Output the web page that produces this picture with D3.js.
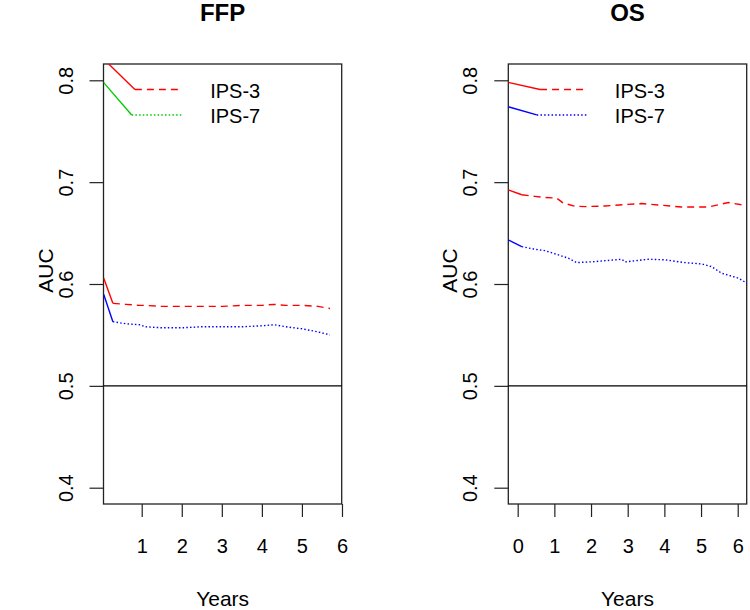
<!DOCTYPE html>
<html><head><meta charset="utf-8">
<script src="https://cdn.jsdelivr.net/npm/d3@7"></script>
<style>body{margin:0;background:#fff}text{font-family:"Liberation Sans",Arial,sans-serif}</style>
</head><body>
<svg id="c" width="750" height="610"></svg>
<script>
// ---- data ----
const panelTitles = ["FFP", "OS"];
const yTicks = [0.4, 0.5, 0.6, 0.7, 0.8];
const ffpXTicks = [1, 2, 3, 4, 5, 6];
const osXTicks = [0, 1, 2, 3, 4, 5, 6];
const legendLabels = ["IPS-3", "IPS-7"];

const ffpTimes = [0.05, 0.28, 0.6, 0.95, 1.1, 1.5, 2.0, 2.5, 3.0, 3.5, 4.0, 4.3, 4.6, 5.0, 5.4, 5.7];
const ffpIPS3 = [0.606, 0.581, 0.580, 0.579, 0.579, 0.578, 0.578, 0.578, 0.578, 0.579, 0.579, 0.580, 0.579, 0.579, 0.578, 0.576];
const ffpIPS7 = [0.590, 0.563, 0.561, 0.560, 0.558, 0.557, 0.557, 0.558, 0.558, 0.558, 0.559, 0.560, 0.558, 0.556, 0.553, 0.550];

const osTimes3 = [-0.26, 0.11, 0.47, 0.74, 1.06, 1.24, 1.56, 1.84, 2.38, 2.93, 3.38, 3.93, 4.47, 5.2, 5.74, 6.25];
const osIPS3 = [0.6925, 0.6876, 0.686, 0.685, 0.6844, 0.6795, 0.6763, 0.676, 0.6766, 0.678, 0.679, 0.6773, 0.6756, 0.6756, 0.680, 0.677];
const osTimes7 = [-0.26, 0.11, 0.47, 0.74, 1.11, 1.38, 1.61, 2.11, 2.84, 2.93, 3.56, 4.02, 4.56, 5.02, 5.29, 5.56, 6.02, 6.25];
const osIPS7 = [0.6433, 0.6367, 0.6341, 0.6328, 0.6286, 0.6253, 0.621, 0.622, 0.6243, 0.6217, 0.6243, 0.6237, 0.621, 0.6197, 0.617, 0.6106, 0.6057, 0.6008];

// legend leader segments (solid part, then patterned legend line), in data units
const ffpLegend = [
  {label: "IPS-3", color: "#ff0000", dash: "7,5", lead: [[0.046, 0.821], [0.83, 0.791]], line: [[0.83, 0.791], [1.96, 0.791]], tx: 2.71},
  {label: "IPS-7", color: "#00cc00", dash: "1.5,2.2", lead: [[0.046, 0.798], [0.75, 0.766]], line: [[0.75, 0.766], [2.0, 0.766]], tx: 2.71}
];
const osLegend = [
  {label: "IPS-3", color: "#ff0000", dash: "7,5", lead: [[-0.26, 0.798], [0.61, 0.791]], line: [[0.61, 0.791], [1.88, 0.791]], tx: 2.65},
  {label: "IPS-7", color: "#0000ff", dash: "1.5,2.2", lead: [[-0.26, 0.774], [0.52, 0.766]], line: [[0.52, 0.766], [1.88, 0.766]], tx: 2.65}
];

const panels = [
  {title: panelTitles[0], x0: 103.5, x1: 341.7, xdom: [0.046, 5.993], xticks: ffpXTicks,
   series: [{t: ffpTimes, v: ffpIPS3, color: "#ff0000", dash: "7,5"}, {t: ffpTimes, v: ffpIPS7, color: "#0000ff", dash: "1.5,2.2"}],
   legend: ffpLegend},
  {title: panelTitles[1], x0: 508.3, x1: 746.7, xdom: [-0.256, 6.245], xticks: osXTicks,
   series: [{t: osTimes3, v: osIPS3, color: "#ff0000", dash: "7,5"}, {t: osTimes7, v: osIPS7, color: "#0000ff", dash: "1.5,2.2"}],
   legend: osLegend}
];

const svg = d3.select("#c");
const yTop = 64, yBot = 504;
const y = d3.scaleLinear().domain([0.384, 0.816]).range([yBot, yTop]);
const axisColor = "#222";

panels.forEach((p, i) => {
  const x = d3.scaleLinear().domain(p.xdom).range([p.x0, p.x1]);
  const g = svg.append("g");
  const cid = "clip" + i;
  svg.append("defs").append("clipPath").attr("id", cid)
    .append("rect").attr("x", p.x0).attr("y", yTop).attr("width", p.x1 - p.x0).attr("height", yBot - yTop);

  // axes
  const xa = g.append("g").attr("transform", `translate(0,${yBot})`)
    .call(d3.axisBottom(x).tickValues(p.xticks).tickSize(13).tickPadding(22).tickFormat(d3.format("d")));
  xa.select(".domain").remove();
  xa.selectAll("line").attr("stroke", axisColor).attr("stroke-width", 1.2);
  xa.selectAll("text").attr("font-size", 20).attr("fill", "#000").attr("dy", null).attr("y", 49);

  const ya = g.append("g").attr("transform", `translate(${p.x0},0)`)
    .call(d3.axisLeft(y).tickValues(yTicks).tickSize(14).tickFormat(d3.format(".1f")));
  ya.select(".domain").remove();
  ya.selectAll("line").attr("stroke", axisColor).attr("stroke-width", 1.2);
  ya.selectAll("text").attr("font-size", 20).attr("fill", "#000")
    .attr("x", null).attr("dy", null).attr("text-anchor", "middle")
    .attr("transform", "translate(-31,0) rotate(-90)").attr("y", 0);

  // box
  g.append("rect").attr("x", p.x0).attr("y", yTop).attr("width", p.x1 - p.x0).attr("height", yBot - yTop)
    .attr("fill", "none").attr("stroke", axisColor).attr("stroke-width", 1.3);

  // reference line at 0.5
  g.append("line").attr("x1", p.x0).attr("x2", p.x1).attr("y1", y(0.5)).attr("y2", y(0.5))
    .attr("stroke", "#000").attr("stroke-width", 1.2);

  const cg = g.append("g").attr("clip-path", `url(#${cid})`);
  const line = d3.line().x(d => x(d[0])).y(d => y(d[1]));

  p.series.forEach(s => {
    const pts = s.t.map((t, k) => [t, s.v[k]]);
    // first segment solid, remainder patterned
    cg.append("path").attr("d", line(pts.slice(0, 2))).attr("fill", "none")
      .attr("stroke", s.color).attr("stroke-width", 1.4);
    cg.append("path").attr("d", line(pts.slice(1))).attr("fill", "none")
      .attr("stroke", s.color).attr("stroke-width", 1.4).attr("stroke-dasharray", s.dash);
  });

  p.legend.forEach(l => {
    cg.append("path").attr("d", line(l.lead)).attr("fill", "none").attr("stroke", l.color).attr("stroke-width", 1.4);
    cg.append("path").attr("d", line(l.line)).attr("fill", "none").attr("stroke", l.color)
      .attr("stroke-width", 1.4).attr("stroke-dasharray", l.dash);
    g.append("text").attr("x", x(l.tx)).attr("y", y(l.line[0][1]) + 8.5).attr("font-size", 20).attr("fill", "#000").text(l.label);
  });

  // titles & labels
  const cx = (p.x0 + p.x1) / 2;
  g.append("text").attr("x", cx).attr("y", 21).attr("text-anchor", "middle")
    .attr("font-size", 24).attr("font-weight", "bold").text(p.title);
  g.append("text").attr("x", cx).attr("y", 606).attr("text-anchor", "middle").attr("font-size", 21).text("Years");
  g.append("text").attr("transform", `translate(${p.x0 - 51},270.5) rotate(-90)`).attr("text-anchor", "middle")
    .attr("font-size", 21).text("AUC");
});
</script>
</body></html>
